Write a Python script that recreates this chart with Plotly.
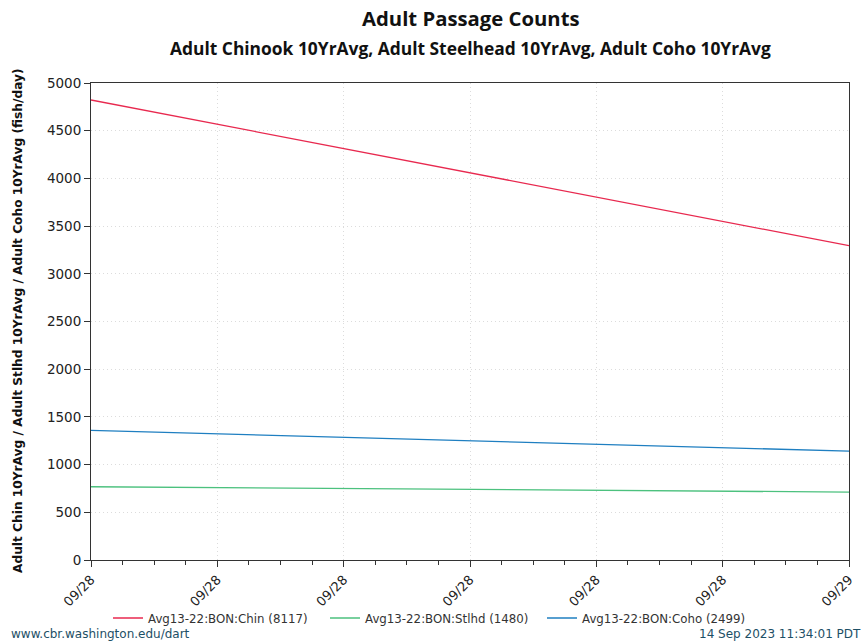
import plotly.graph_objects as go

dates = ["2023-09-28 00:00", "2023-09-29 00:00"]
chin = [4822, 3295]
stlhd = [768, 712]
coho = [1358, 1141]
names = ["Avg13-22:BON:Chin (8117)", "Avg13-22:BON:Stlhd (1480)", "Avg13-22:BON:Coho (2499)"]
colors = ["#e8294f", "#4cc17e", "#1f7fc1"]

W, H = 865, 642
l, r, t, b = 91, 16, 83, 82
pw, ph = W - l - r, H - t - b
def px(x): return (x - l) / pw
def py(y): return (H - b - y) / ph

fig = go.Figure()
for vals, nm, c in zip([chin, stlhd, coho], names, colors):
    fig.add_trace(go.Scatter(x=dates, y=vals, mode="lines", name=nm,
                             line=dict(color=c, width=1.3)))

foot = dict(size=12, color="#1d4f66", family="DejaVu Sans")
fig.update_layout(
    width=W, height=H,
    margin=dict(l=l, r=r, t=t, b=b, autoexpand=False),
    paper_bgcolor="white", plot_bgcolor="white",
    font=dict(family="DejaVu Sans", size=12, color="#222"),
    showlegend=True,
    legend=dict(orientation="h", x=px(108), xanchor="left", y=py(618), yanchor="middle",
                font=dict(size=11.8, color="#333"), entrywidth=172, entrywidthmode="pixels",
                tracegroupgap=0, itemwidth=30, bgcolor="rgba(0,0,0,0)"),
    annotations=[
        dict(text="<b>Adult Passage Counts</b>", x=px(471), y=py(18), xref="paper", yref="paper",
             xanchor="center", yanchor="middle",
             showarrow=False, font=dict(family="Open Sans", size=20.3, color="#111")),
        dict(text="<b>Adult Chinook 10YrAvg, Adult Steelhead 10YrAvg, Adult Coho 10YrAvg</b>",
             x=px(470), y=py(48), xref="paper", yref="paper", xanchor="center", yanchor="middle",
             showarrow=False, font=dict(family="Open Sans", size=17.4, color="#111")),
        dict(text="www.cbr.washington.edu/dart", x=px(9), y=py(634), xref="paper", yref="paper",
             xanchor="left", yanchor="middle", showarrow=False, font=foot),
        dict(text="14 Sep 2023 11:34:01 PDT", x=px(863), y=py(634), xref="paper", yref="paper",
             xanchor="right", yanchor="middle", showarrow=False, font=foot),
        dict(text="<b>Adult Chin 10YrAvg / Adult Stlhd 10YrAvg / Adult Coho 10YrAvg (fish/day)</b>",
             x=px(18), y=py(321), xref="paper", yref="paper", xanchor="center", yanchor="middle",
             textangle=-90, showarrow=False, font=dict(size=12.2, color="#111", family="DejaVu Sans")),
    ],
)

fig.update_xaxes(
    type="date", range=["2023-09-28 00:00", "2023-09-29 00:00"], automargin=False,
    tickformat="%m/%d", dtick=4 * 3600000, tick0="2023-09-28 00:00",
    tickangle=-45, ticks="outside", ticklen=6, tickcolor="#333",
    showline=True, linecolor="#333", linewidth=1, mirror=True,
    showgrid=True, gridcolor="#dcdcdc", griddash="1px,3px",
    tickfont=dict(size=13, color="#222"),
    minor=dict(dtick=3600000, ticks="outside", ticklen=4, tickcolor="#333", showgrid=False),
    zeroline=False,
)
fig.update_yaxes(
    range=[0, 5000], dtick=500, ticks="outside", ticklen=6, tickcolor="#333", automargin=False,
    showline=True, linecolor="#333", linewidth=1, mirror=True,
    showgrid=True, gridcolor="#dcdcdc", griddash="1px,3px",
    tickfont=dict(size=13.5, color="#222"),
    zeroline=False,
)
fig.write_html("out.html", config={"displayModeBar": False},
               post_script="document.body.style.margin='0';document.body.style.overflow='hidden';")
